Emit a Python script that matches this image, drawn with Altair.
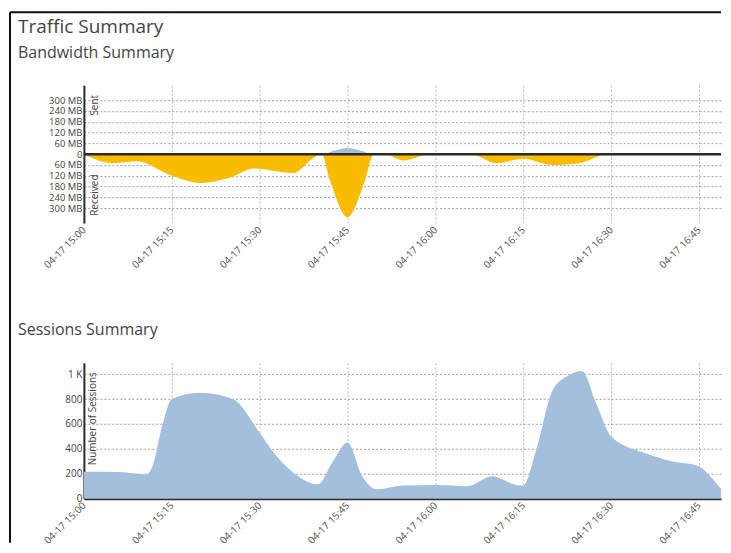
import altair as alt
import pandas as pd

# ---------------- data ----------------
day = "2024-04-17 15:00"
main_title = "Traffic Summary"
bw_title = "Bandwidth Summary"
ss_title = "Sessions Summary"

# Bandwidth (MB): received shown negative, sent positive; minutes after 15:00
recv_minutes = [0, 5, 9, 15, 20, 25, 29, 35.7, 39, 40.3, 40.6, 42, 45, 48, 49.5,
                51.5, 54.5, 59, 66, 70.5, 75, 80, 84.5, 89.5, 110]
recv_mb = [0, -50, -40, -120, -160, -130, -80, -105, -25, 0, 0, -145, -350, -145, 0,
           0, -35, 0, 0, -50, -25, -60, -50, 0, 0]
sent_minutes = [0, 40.5, 43, 45, 47, 49.5, 110]
sent_mb = [0, 0, 22, 35, 22, 0, 0]

# Sessions
sess_minutes = [0, 6, 10.7, 11.7, 13.5, 15, 19.8, 25.4, 30, 32.9, 35.6, 40, 42.4, 45,
                47.5, 50, 54.4, 60, 65.4, 69.7, 73.8, 75, 77.2, 80, 82.8, 85, 87.4,
                90, 95.9, 100.4, 105, 106.7, 110]
sess_count = [216, 215, 195, 260, 610, 800, 850, 800, 530, 340, 215, 115, 290, 450,
              180, 75, 105, 110, 100, 180, 110, 105, 390, 870, 990, 1025, 770,
              500, 365, 300, 260, 190, 0]

bw_ticks = [-300, -240, -180, -120, -60, 0, 60, 120, 180, 240, 300]
ss_ticks = [0, 200, 400, 600, 800, 1000]
x_tick_minutes = [0, 15, 30, 45, 60, 75, 90, 105]
x_end_minutes = 108.75

t0 = pd.Timestamp(day)


def iso(m):
    return (t0 + pd.Timedelta(minutes=m)).strftime("%Y-%m-%dT%H:%M:%S")


def times(mins):
    return [iso(m) for m in mins]


recv_df = pd.DataFrame({"time": times(recv_minutes), "value": recv_mb})
sent_df = pd.DataFrame({"time": times(sent_minutes), "value": sent_mb})
sess_df = pd.DataFrame({"time": times(sess_minutes), "value": sess_count})
zero_df = pd.DataFrame({"time": times([0]), "value": [0]})
one = pd.DataFrame({"a": [0]})

FONT = "Open Sans"
W, H1, H2 = 638, 138, 136
YELLOW = "#F9BC00"
BLUE = "#A3BFDB"
DARK = "#2b2b2b"


def dt(m):
    t = t0 + pd.Timedelta(minutes=m)
    return alt.DateTime(year=t.year, month=t.month, date=t.day, hours=t.hour,
                        minutes=t.minute, seconds=t.second)


x_scale = alt.Scale(domain=[dt(0), dt(x_end_minutes)])


def x_axis(domain):
    return alt.Axis(format="%m-%d %H:%M", values=[dt(m) for m in x_tick_minutes],
                    labelAngle=-45, labelAlign="right", labelBaseline="middle",
                    labelPadding=5, ticks=False, domain=domain, domainColor=DARK,
                    domainWidth=2, grid=True, gridDash=[2, 2], gridColor="#b8b8b8",
                    labelFontSize=10, labelColor="#555", labelFont=FONT, title=None,
                    labelOverlap=False)


def text_layer(txt, x, y, size, angle=0, align="left", color="#444"):
    return alt.Chart(pd.DataFrame({"t": [txt]})).mark_text(
        font=FONT, fontSize=size, angle=angle, align=align,
        baseline="middle", color=color
    ).encode(text="t:N", x=alt.value(x), y=alt.value(y))


# ---------------- bandwidth chart ----------------
bw_y_axis = alt.Axis(values=bw_ticks, labelOverlap=False,
                     labelExpr="datum.value == 0 ? '0' : abs(datum.value) + ' MB'",
                     ticks=False, labelPadding=2, domainColor=DARK, domainWidth=2,
                     grid=True, gridDash=[2, 2], gridColor="#a0a0a0",
                     labelFontSize=9.5, labelColor="#444", labelFont=FONT)
bw_x = alt.X("time:T", scale=x_scale, axis=x_axis(False), title=None)
bw_y = alt.Y("value:Q", scale=alt.Scale(domain=[-383, 383]), stack=None, title=None,
             axis=bw_y_axis)

recv_area = alt.Chart(recv_df).mark_area(color=YELLOW, interpolate="monotone", clip=True).encode(
    x=bw_x, y=bw_y)
sent_area = alt.Chart(sent_df).mark_area(color=BLUE, interpolate="monotone", clip=True).encode(
    x=bw_x, y=bw_y)
zero_rule = alt.Chart(zero_df).mark_rule(color=DARK, strokeWidth=2.5).encode(y=bw_y)

border1 = alt.Chart(one).mark_rule(color="#111", strokeWidth=2).encode(
    x=alt.value(-74), y=alt.value(-73), y2=alt.value(205))
border_top = alt.Chart(one).mark_rule(color="#111", strokeWidth=2).encode(
    x=alt.value(-74), x2=alt.value(W), y=alt.value(-73))

bw = alt.layer(
    recv_area, sent_area, zero_rule, border1, border_top,
    text_layer(main_title, -66, -58, 19),
    text_layer(bw_title, -66, -32, 16),
    text_layer("Sent", 11, 20, 10, angle=270, align="center"),
    text_layer("Received", 11, 110, 10, angle=270, align="center"),
).properties(width=W, height=H1)

# ---------------- sessions chart ----------------
ss_y = alt.Y("value:Q", scale=alt.Scale(domain=[0, 1090]), title=None,
             axis=alt.Axis(values=ss_ticks, labelOverlap=False,
                           labelExpr="datum.value >= 1000 ? (datum.value / 1000) + ' K' : datum.label",
                           ticks=False, labelPadding=2, domainColor=DARK, domainWidth=2,
                           grid=True, gridDash=[2, 2], gridColor="#a0a0a0",
                           labelFontSize=10, labelColor="#444", labelFont=FONT))

sess_area = alt.Chart(sess_df).mark_area(color=BLUE, interpolate="monotone", clip=True).encode(
    x=alt.X("time:T", scale=x_scale, axis=x_axis(True), title=None), y=ss_y)
border2 = alt.Chart(one).mark_rule(color="#111", strokeWidth=2).encode(
    x=alt.value(-74), y=alt.value(-90), y2=alt.value(180))

ss = alt.layer(
    sess_area, border2,
    text_layer(ss_title, -66, -33, 16),
    text_layer("Number of Sessions", 9, 56, 10, angle=270, align="center"),
).properties(width=W, height=H2)

chart = alt.vconcat(bw, ss, spacing=140, bounds="flush").properties(
    padding={"left": 1, "top": 3, "right": 0, "bottom": 0}
).configure_view(stroke=None).configure_axis(labelOverlap=False)

chart.save("out.html", embed_options={"renderer": "svg", "actions": False})
